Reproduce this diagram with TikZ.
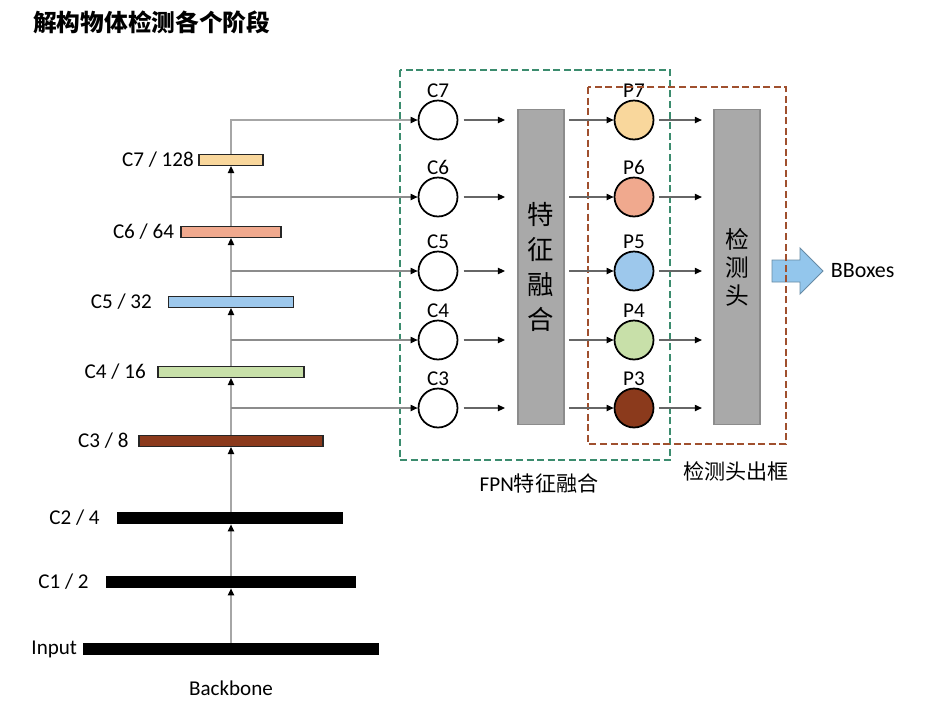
\documentclass[tikz,border=0pt]{standalone}
\usepackage{fontspec}
\setmainfont{Carlito}
\newfontfamily\cjk{Noto Sans CJK SC}
\usetikzlibrary{arrows.meta,positioning}
\definecolor{BarOrange}{HTML}{F9D79C}
\definecolor{BarSalmon}{HTML}{F0A98E}
\definecolor{BarBlue}{HTML}{9DC8EC}
\definecolor{BarGreen}{HTML}{C8E0A9}
\definecolor{BarBrown}{HTML}{8B3A1C}
\definecolor{BlockGray}{HTML}{A9A9A9}
\definecolor{FpnGreen}{HTML}{3B8C6E}
\definecolor{HeadRed}{HTML}{A0502E}
\definecolor{ArrowBlue}{HTML}{93C6EC}

\begin{document}
\begin{tikzpicture}[
  x=0.02cm, y=-0.02cm,
  bar/.style={
    draw=black!85,
    line width=0.6pt,
    inner sep=0pt,
    minimum height=0.22cm
  },
  blackbar/.style={
    fill=black,
    inner sep=0pt,
    minimum height=0.24cm
  },
  barlabel/.style={font=\fontsize{12}{14}\selectfont, inner sep=0pt},
  feat/.style={
    circle,
    draw=black,
    line width=1pt,
    minimum size=0.78cm,
    inner sep=0pt
  },
  block/.style={
    draw=black!45,
    fill=BlockGray,
    line width=0.8pt,
    minimum width=0.92cm,
    minimum height=6.3cm,
    align=center,
    inner sep=0pt
  },
  up/.style={-{Triangle[length=4pt,width=3.6pt,color=black]}, draw=black!35, line width=0.8pt},
  flow/.style={-{Triangle[length=4pt,width=3.6pt,color=black]}, draw=black!60, line width=0.6pt},
  dashbox/.style={dash pattern=on 4pt off 2pt, line width=1.3pt},
  every label/.style={font=\fontsize{12}{14}\selectfont, inner sep=1pt},
  font=\fontsize{12}{14}\selectfont
]
\useasboundingbox (0,0) rectangle (932,721);

% title
\node[anchor=west, font=\cjk\bfseries\fontsize{13.5}{16}\selectfont] (title) at (27,22)
{解构物体检测各个阶段};

% backbone bars
\node[blackbar, minimum width=5.92cm] (input) at (231,649) {};
\node[blackbar, minimum width=5.0cm] (bar1) at (231,582) {};
\node[blackbar, minimum width=4.52cm] (bar2) at (230,518) {};
\node[bar, fill=BarBrown, minimum width=3.68cm] (bar3) at (231,441) {};
\node[bar, fill=BarGreen, minimum width=2.92cm] (bar4) at (231,372) {};
\node[bar, fill=BarBlue, minimum width=2.5cm] (bar5) at (231,302) {};
\node[bar, fill=BarSalmon, minimum width=2.0cm] (bar6) at (231,232) {};
\node[bar, fill=BarOrange, minimum width=1.28cm] (bar7) at (231,160) {};

\node[barlabel, left=3pt of input] (inputlabel) {Input};
\node[barlabel, left=9.5pt of bar1] (label1) {C1 / 2};
\node[barlabel, left=9.5pt of bar2] (label2) {C2 / 4};
\node[barlabel, left=5.5pt of bar3] (label3) {C3 / 8};
\node[barlabel, left=6.5pt of bar4] (label4) {C4 / 16};
\node[barlabel, left=9pt of bar5] (label5) {C5 / 32};
\node[barlabel, left=3.5pt of bar6] (label6) {C6 / 64};
\node[barlabel, left=2.5pt of bar7] (label7) {C7 / 128};

\node (backbone) at (231,688) {Backbone};

% feature circles and fusion blocks
\foreach \i/\y/\col in {7/120/BarOrange, 6/197/BarSalmon, 5/271/BarBlue, 4/340/BarGreen, 3/408/BarBrown}{
  \node[feat, label={above:C\i}] (cc\i) at (438,\y) {};
  \node[feat, fill=\col, label={above:P\i}] (pp\i) at (634,\y) {};
}

\node[block, font=\cjk\fontsize{15}{20}\selectfont] (fuse) at (541,267) {特\\征\\融\\合};
\node[block, font=\cjk\fontsize{13.5}{16}\selectfont] (head) at (737,267) {检\\测\\头};

% output arrow
\coordinate (bbtail) at (772,271);
\coordinate (bbtip) at (823,271);
\draw[fill=ArrowBlue, draw=ArrowBlue!70!black, line width=0.5pt]
  (bbtail) ++(0,-11) -- ++(28,0) -- ++(0,-12) -- (bbtip)
  -- ++(-23,23) -- ++(0,-12) -- ++(-28,0) -- cycle;
\node[right=1pt of bbtip, font=\fontsize{12.5}{14}\selectfont] (bboxes) {BBoxes};

% dashed regions
\draw[dashbox, draw=FpnGreen] (400,70) rectangle (670,460);
\draw[dashbox, draw=HeadRed] (588,87) rectangle (786,444);
\node (fpnlabel) at (539,483) {FPN{\cjk 特征融合}};
\node[font=\cjk\fontsize{12}{14}\selectfont] (headlabel) at (736,471) {检测头出框};

% connectors
\draw[up] (input.north) -- (bar1.south);
\draw[up] (bar1.north) -- (bar2.south -| bar1);
\draw[up] (bar2.north -| bar1) -- (bar3.south);
\draw[up] (bar3.north) -- (bar4.south);
\draw[up] (bar4.north) -- (bar5.south -| bar4);
\draw[up] (bar5.north -| bar4) -- (bar6.south);
\draw[up] (bar6.north) -- (bar7.south);
\draw[flow, draw=black!35] (bar7.north) |- (cc7.west);
\foreach \i in {6,5,4,3}{
  \draw[flow, draw=black!45] (bar7 |- cc\i) -- (cc\i.west);
}
\foreach \i in {7,6,5,4,3}{
  \draw[flow, shorten <=3pt, shorten >=7pt] (cc\i.east) -- (cc\i -| fuse.west);
  \draw[flow, shorten <=2.5pt] (pp\i -| fuse.east) -- (pp\i.west);
  \draw[flow, shorten <=2.5pt, shorten >=6.5pt] (pp\i.east) -- (pp\i -| head.west);
}
\end{tikzpicture}
\end{document}
